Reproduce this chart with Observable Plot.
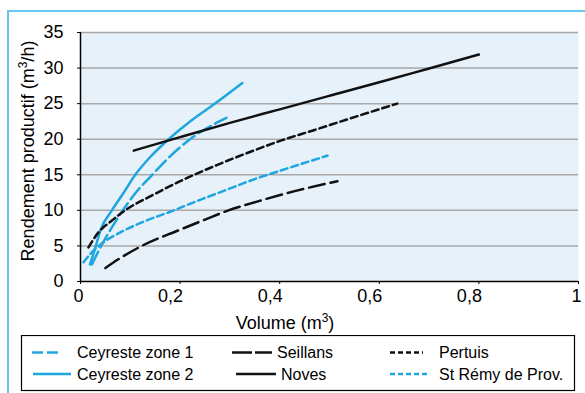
<!DOCTYPE html>
<html><head><meta charset="utf-8">
<script src="https://cdn.jsdelivr.net/npm/d3@7"></script>
<script src="https://cdn.jsdelivr.net/npm/@observablehq/plot@0.6"></script>
<style>
body{margin:0;background:#fff;}
#wrap{position:relative;width:585px;height:393px;overflow:hidden;font-family:"Liberation Sans",Arial,sans-serif;}
#chart{position:absolute;left:0;top:0;}
#frame{position:absolute;left:7px;top:10px;width:700px;height:500px;border-left:2.5px solid #66c7f0;border-top:2.5px solid #66c7f0;pointer-events:none;}
#legend{position:absolute;left:0;top:335px;}
</style></head><body>
<div id="wrap"><div id="chart"></div><svg id="legend" width="585" height="58"></svg><div id="frame"></div></div>
<script>
// ---- data ----
const seriesNames = ["Ceyreste zone 1", "Ceyreste zone 2", "Seillans", "Noves", "Pertuis", "St Rémy de Prov."];

const volZone1 = [0.023, 0.04, 0.063, 0.083, 0.11, 0.144, 0.18, 0.22, 0.255, 0.293];
const rendZone1 = [2.4, 4.8, 7.6, 9.8, 12.4, 15.0, 17.6, 20.0, 21.6, 23.0];

const volZone2 = [0.019, 0.03, 0.04, 0.063, 0.085, 0.11, 0.14, 0.177, 0.22, 0.268, 0.325];
const rendZone2 = [2.4, 4.8, 7.2, 10.0, 12.3, 15.0, 17.5, 20.0, 22.5, 24.9, 27.9];

const volSeillans = [0.05, 0.08, 0.123, 0.197, 0.25, 0.297, 0.358, 0.43, 0.516];
const rendSeillans = [1.9, 3.3, 5.0, 7.2, 8.7, 10.0, 11.3, 12.7, 14.1];

const volNoves = [0.107, 0.2, 0.3, 0.4, 0.5, 0.6, 0.7, 0.8];
const rendNoves = [18.4, 20.3, 22.3, 24.2, 26.1, 28.0, 29.95, 31.9];

const volPertuis = [0.016, 0.036, 0.06, 0.096, 0.141, 0.197, 0.275, 0.34, 0.402, 0.47, 0.536, 0.636];
const rendPertuis = [4.8, 6.9, 8.4, 10.3, 12.0, 14.0, 16.4, 18.2, 19.8, 21.3, 22.8, 25.0];

const volStRemy = [0.006, 0.02, 0.046, 0.08, 0.13, 0.18, 0.23, 0.29, 0.35, 0.42, 0.496];
const rendStRemy = [2.7, 3.9, 5.5, 6.9, 8.5, 9.8, 11.2, 12.8, 14.4, 16.0, 17.7];

const xTicks = [0, 0.2, 0.4, 0.6, 0.8, 1];
const xTickLabels = ["0", "0,2", "0,4", "0,6", "0,8", "1"];
const yTicks = [0, 5, 10, 15, 20, 25, 30, 35];
const yTickLabels = ["0", "5", "10", "15", "20", "25", "30", "35"];

// ---- styles ----
const CYAN = "#1ea6df";
const BLACK = "#111";
const styles = [
  {color: CYAN, dash: "14,5"},
  {color: CYAN, dash: null},
  {color: BLACK, dash: "16,6"},
  {color: BLACK, dash: null},
  {color: BLACK, dash: "7,4"},
  {color: CYAN, dash: "7,4"}
];
const vols = [volZone1, volZone2, volSeillans, volNoves, volPertuis, volStRemy];
const rends = [rendZone1, rendZone2, rendSeillans, rendNoves, rendPertuis, rendStRemy];

const tables = seriesNames.map((name, s) => vols[s].map((v, i) => ({serie: name, volume: v, rendement: rends[s][i]})));

const lineMarks = tables.map((t, s) => Plot.line(t, {
  x: "volume", y: "rendement", stroke: styles[s].color, strokeWidth: 2.5,
  strokeDasharray: styles[s].dash || undefined, curve: "monotone-x"
}));

const plot = Plot.plot({
  width: 585, height: 335,
  marginLeft: 80, marginRight: 7, marginTop: 32, marginBottom: 54,
  style: {fontFamily: "Liberation Sans, Arial, sans-serif", fontSize: "18px", color: "#000", background: "transparent", overflow: "visible"},
  x: {domain: [0, 1]},
  y: {domain: [0, 35]},
  marks: [
    Plot.frame({fill: "#e6f1fa", stroke: "none"}),
    Plot.ruleY(yTicks.filter(d => d > 0), {stroke: "#a9a9a9", strokeWidth: 1.5}),
    ...lineMarks,
    Plot.ruleY([0], {stroke: "#000", strokeWidth: 1.5}),
    Plot.ruleX([0], {stroke: "#000", strokeWidth: 1.5}),
    Plot.axisY({ticks: yTicks, tickSize: 3, tickPadding: 14, fontSize: 18, label: null,
      tickFormat: d => yTickLabels[yTicks.indexOf(d)]}),
    Plot.axisX({ticks: xTicks, tickSize: 3, label: null, tickFormat: () => ""}),
    Plot.text(xTicks, {x: d => d, text: d => xTickLabels[xTicks.indexOf(d)],
      frameAnchor: "bottom", textAnchor: "end", lineAnchor: "top", dx: 3, dy: 8, fontSize: 18, fill: "#000"})
  ]
});
document.getElementById("chart").appendChild(plot);

// axis titles with superscript
const svg = d3.select(plot);
const yl = svg.append("text").attr("transform", "translate(34,151) rotate(-90)")
  .attr("text-anchor", "middle").attr("fill", "#000").style("font-size", "18px");
yl.append("tspan").text("Rendement productif (m");
yl.append("tspan").attr("dy", -7).style("font-size", "12px").text("3");
yl.append("tspan").attr("dy", 7).text("/h)");
const xl = svg.append("text").attr("x", 285).attr("y", 329)
  .attr("text-anchor", "middle").attr("fill", "#000").style("font-size", "18px");
xl.append("tspan").text("Volume (m");
xl.append("tspan").attr("dy", -7).style("font-size", "12px").text("3");
xl.append("tspan").attr("dy", 7).text(")");

// legend
const lg = d3.select("#legend");
lg.append("rect").attr("x", 21.5).attr("y", 0.5).attr("width", 553).attr("height", 55)
  .attr("fill", "#fff").attr("stroke", "#000").attr("stroke-width", 1.2);
const legendPos = [
  {x1: 32, x2: 61, tx: 77, y: 17.5},
  {x1: 33, x2: 71, tx: 77, y: 39},
  {x1: 232, x2: 272, tx: 277, y: 17.5},
  {x1: 236, x2: 276, tx: 281, y: 39},
  {x1: 390, x2: 423, tx: 439, y: 17.5},
  {x1: 390, x2: 429, tx: 439, y: 39}
];
const legendDash = ["11,4", null, "20,3", null, "5,3", "5,3"];
seriesNames.forEach((name, s) => {
  const p = legendPos[s];
  const l = lg.append("line").attr("x1", p.x1).attr("x2", p.x2).attr("y1", p.y).attr("y2", p.y)
    .attr("stroke", styles[s].color).attr("stroke-width", 2.5);
  if (legendDash[s]) l.attr("stroke-dasharray", legendDash[s]);
  lg.append("text").attr("x", p.tx).attr("y", p.y).attr("dy", "0.35em")
    .attr("fill", "#000").style("font-size", "16px")
    .style("font-family", "Liberation Sans, Arial, sans-serif").text(name);
});
</script>
</body></html>
